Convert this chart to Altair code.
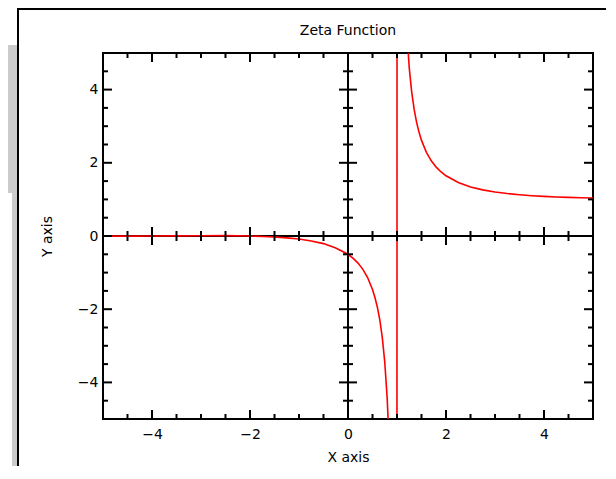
import altair as alt
import pandas as pd

# Zeta function curve
curve_x = [-5, -4.5, -4, -3.5, -3, -2.5, -2, -1.75, -1.5, -1.25, -1, -0.75,
           -0.5, -0.25, 0, 0.1, 0.2, 0.3, 0.4, 0.5, 0.55, 0.6, 0.65, 0.7,
           0.75, 0.8, 0.85, 0.9, 0.95, 0.99, 1.01, 1.05, 1.1, 1.15, 1.2,
           1.25, 1.3, 1.35, 1.4, 1.45, 1.5, 1.6, 1.7, 1.8, 1.9, 2, 2.25,
           2.5, 2.75, 3, 3.25, 3.5, 3.75, 4, 4.25, 4.5, 4.75, 5]
curve_y = [-0.004, -0.003, 0.0, 0.004, 0.008, 0.009, 0.0, -0.012, -0.026,
           -0.050, -0.083, -0.136, -0.208, -0.330, -0.5, -0.604, -0.734,
           -0.905, -1.135, -1.460, -1.680, -1.951, -2.300, -2.778, -3.443,
           -4.438, -6.0, -9.43, -19.4, -99.4, 100.6, 20.58, 10.58, 7.25,
           5.59, 4.595, 3.932, 3.459, 3.106, 2.832, 2.612, 2.286, 2.054,
           1.882, 1.750, 1.645, 1.460, 1.341, 1.260, 1.202, 1.160, 1.127,
           1.101, 1.082, 1.067, 1.055, 1.045, 1.037]

# tick positions
label_values = [-4, -2, 0, 2, 4]
major_ticks = [-4, -2, 0, 2, 4]
minor_ticks = [-4.5, -3.5, -3, -2.5, -1.5, -1, -0.5, 0.5, 1, 1.5, 2.5, 3, 3.5, 4.5]
tick_lines = [-5, 0, 5]   # frame edges and the zero axes

FONT = "DejaVu Sans"
W, H = 490, 366

xs = alt.Scale(domain=[-5, 5], nice=False, zero=False)
ys = alt.Scale(domain=[-5, 5], nice=False, zero=False)
xaxis = alt.Axis(values=label_values, ticks=False, tickSize=0, domain=False,
                 grid=False, labelPadding=8, title="X axis",
                 titleX=W / 2, titleY=38, titleBaseline="middle",
                 titleAlign="center", format="d")
yaxis = alt.Axis(values=label_values, ticks=False, tickSize=0, domain=False,
                 grid=False, labelPadding=5, title="Y axis",
                 titleX=-56, titleY=H / 2, titleAngle=-90,
                 titleBaseline="middle", titleAlign="center", format="d")

curve = pd.DataFrame({"x": curve_x, "y": curve_y})

vt_rows, ht_rows = [], []
for c in tick_lines:
    for v in major_ticks:
        vt_rows.append({"x": v, "y": c, "len": 18})
        ht_rows.append({"x": c, "y": v, "len": 18})
    for v in minor_ticks:
        vt_rows.append({"x": v, "y": c, "len": 10})
        ht_rows.append({"x": c, "y": v, "len": 10})
vt = pd.DataFrame(vt_rows)
ht = pd.DataFrame(ht_rows)

zero_lines = pd.DataFrame({"x": [-5, 0], "x2": [5, 0], "y": [0, -5], "y2": [0, 5]})
one = pd.DataFrame({"k": [0]})

X = lambda f: alt.X(f, scale=xs, axis=xaxis)
Y = lambda f: alt.Y(f, scale=ys, axis=yaxis)

# decorative page background pieces (outside the plot)
gray1 = alt.Chart(one).mark_rect(color="#cbcbcb").encode(
    x=alt.value(-95), x2=alt.value(-85), y=alt.value(-8), y2=alt.value(140))
gray2 = alt.Chart(one).mark_rect(color="#cbcbcb").encode(
    x=alt.value(-91), x2=alt.value(-85), y=alt.value(140), y2=alt.value(420))
border_left = alt.Chart(one).mark_rule(color="black", strokeWidth=2).encode(
    x=alt.value(-85), y=alt.value(-45), y2=alt.value(420))
border_top = alt.Chart(one).mark_rule(color="black", strokeWidth=2).encode(
    x=alt.value(-85), x2=alt.value(W + 20), y=alt.value(-44))

title = alt.Chart(one).mark_text(font=FONT, fontSize=14, color="black",
                                 align="center", baseline="middle").encode(
    x=alt.value(W / 2), y=alt.value(-22), text=alt.value("Zeta Function"))

axes0 = alt.Chart(zero_lines).mark_rule(color="black", strokeWidth=2).encode(
    x=X("x:Q"), x2="x2:Q", y=Y("y:Q"), y2="y2:Q")

line = alt.Chart(curve).mark_line(color="#ff0000", strokeWidth=1.6, clip=True).encode(
    x=X("x:Q"), y=Y("y:Q"))

vticks = alt.Chart(vt).mark_tick(orient="vertical", thickness=2, color="black",
                                 clip=True, opacity=1).encode(
    x=X("x:Q"), y=Y("y:Q"), size=alt.Size("len:Q", scale=None, legend=None))
hticks = alt.Chart(ht).mark_tick(orient="horizontal", thickness=2, color="black",
                                 clip=True, opacity=1).encode(
    x=X("x:Q"), y=Y("y:Q"), size=alt.Size("len:Q", scale=None, legend=None))

chart = alt.layer(gray1, gray2, border_left, border_top, title, axes0, line,
                  vticks, hticks).properties(
    width=W, height=H,
    autosize=alt.AutoSizeParams(type="none"),
    padding={"left": 95, "top": 45, "right": 13, "bottom": 47},
    background="white",
).configure_view(stroke="black", strokeWidth=2).configure_axis(
    labelFont=FONT, labelFontSize=14, labelColor="black",
    titleFont=FONT, titleFontSize=14, titleFontWeight="normal", titleColor="black",
)

chart.save("out.html", embed_options={"renderer": "svg", "actions": False})
